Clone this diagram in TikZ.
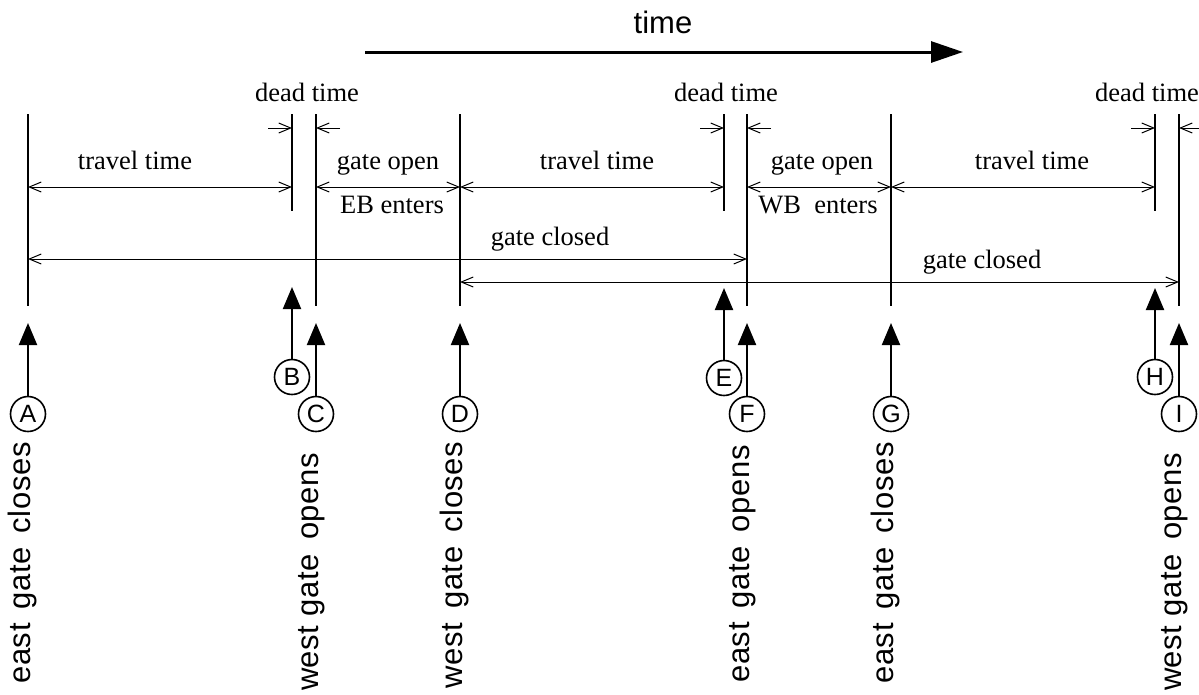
\documentclass[tikz,border=0pt]{standalone}
\usepackage{fontspec}
\setmainfont{Liberation Serif}
\setsansfont{Liberation Sans}
\usetikzlibrary{arrows.meta}
\newcommand\gap{\hspace{14pt}}
\begin{document}
\begin{tikzpicture}[x=1pt,y=-1pt,line join=round,
	evline/.style={line width=2.7pt},
	dim/.style={line width=1pt,{Straight Barb[length=12pt,width=10pt]}-{Straight Barb[length=12pt,width=10pt]}},
	dimr/.style={line width=1pt,-{Straight Barb[length=12pt,width=10pt]}},
	lbl/.style={font=\fontsize{26.5}{30}\selectfont,inner sep=0pt,anchor=base},
	evlbl/.style={font=\sffamily\fontsize{31}{34}\selectfont\addfontfeature{LetterSpace=2},rotate=90,inner sep=0pt,anchor=mid},
	evcirc/.style={circle,draw,line width=1.6pt,minimum size=35pt,inner sep=0pt,font=\sffamily\fontsize{25}{28}\selectfont},
	evarrow/.style={line width=2pt,-{Triangle[length=22pt,width=18pt]}}]
	\useasboundingbox (0,0) rectangle (1199,694);
	% time axis
	\coordinate (ts) at (365,52); \coordinate (te) at (963,52);
	\draw[line width=3pt,-{Triangle[length=32pt,width=21pt]}] (ts) -- (te);
	\node[font=\sffamily\fontsize{31}{34}\selectfont,inner sep=0pt] (time) at (663,22.5) {time};
	% event lines
	\foreach \n/\x/\b in {A/28/306,B/292/211,C/316/306,D/460/306,E/724/211,F/747/306,G/891/306,H/1155/211,I/1179/306}{
		\coordinate (\n) at (\x,114);
		\draw[evline] (\n) -- (\x,\b);
	}
	% intervals
	\draw[dim] (A |- 0,187) -- (B |- 0,187);
	\draw[dim] (C |- 0,187) -- (D |- 0,187);
	\draw[dim] (D |- 0,187) -- (E |- 0,187);
	\draw[dim] (F |- 0,187) -- (G |- 0,187);
	\draw[dim] (G |- 0,187) -- (H |- 0,187);
	\draw[dim] (A |- 0,259) -- (F |- 0,259);
	\draw[dim] (D |- 0,282) -- (I |- 0,282);
	\foreach \l/\r in {B/C,E/F,H/I}{
		\draw[dimr] ([xshift=-24pt]\l |- 0,128) -- (\l |- 0,128);
		\draw[dimr] ([xshift=24pt]\r |- 0,128) -- (\r |- 0,128);
	}
	\node[lbl] (dt1) at (307,101) {dead time};
	\node[lbl] (dt2) at (726,101) {dead time};
	\node[lbl] (dt3) at (1147,101) {dead time};
	\node[lbl] (tt1) at (135,169) {travel time};
	\node[lbl] (tt2) at (597,169) {travel time};
	\node[lbl] (tt3) at (1032,169) {travel time};
	\node[lbl] (go1) at (388,169) {gate open};
	\node[lbl] (go2) at (822,169) {gate open};
	\node[lbl] (eb) at (392,213) {EB enters};
	\node[lbl] (wb) at (818,213) {WB\ \ enters};
	\node[lbl] (gc1) at (550,245) {gate closed};
	\node[lbl] (gc2) at (982,268) {gate closed};
	% events
	\foreach \n/\t/\y in {A/323/414,B/287/377,C/323/414,D/323/414,E/288/378,F/323/414,G/323/414,H/288/377,I/323/414}{
		\node[evcirc] (c\n) at (\n |- 0,\y) {\n};
		\coordinate (t\n) at (\n |- 0,\t);
		\draw[evarrow] (c\n) -- (t\n);
	}
	\foreach \n/\y/\txt in {A/563/east\gap gate\gap closes,C/572/west gate\gap opens,D/565/west\gap gate\gap closes,F/564/east\gap gate\gap opens,G/563/east\gap gate\gap closes,I/572/west gate\gap opens}
		\node[evlbl] (l\n) at (\n |- 0,\y) {\txt};
\end{tikzpicture}
\end{document}
